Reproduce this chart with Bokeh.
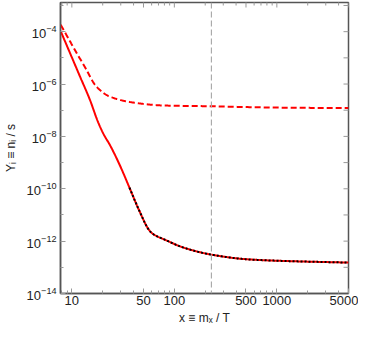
import numpy as np
from bokeh.plotting import figure
from bokeh.models import FixedTicker, CustomJSTickFormatter, Span, LogTickFormatter
from bokeh.embed import file_html
from bokeh.resources import INLINE

# ---- data ----
solid_x = [7.8, 9.7, 12.06, 15.0, 18.0, 20.5, 23.6, 29.3, 36.5,
           45.4, 56.5, 60.7, 81.3, 126, 233, 500, 1028, 5000]
solid_logy = [-3.99, -4.86, -5.73, -6.60, -7.45, -7.93, -8.34, -9.09,
              -9.96, -10.83, -11.57, -11.70, -11.95, -12.26, -12.52,
              -12.69, -12.75, -12.82]

dotted_x = [36.5, 45.4, 56.5, 60.7, 81.3, 126, 233, 500, 1028, 5000]
dotted_logy = [-9.96, -10.83, -11.57, -11.70, -11.95, -12.26, -12.52,
               -12.69, -12.75, -12.82]

dashed_x = [7.8, 10.4, 13.4, 17.4, 23.2, 38.7, 78.4, 233, 500, 1000, 5000]
dashed_logy = [-3.74, -4.61, -5.35, -6.10, -6.47, -6.70, -6.82, -6.85,
               -6.88, -6.90, -6.92]

vline_x = 230

x_lo, x_hi = 7.75, 5000
y_lo, y_hi = 1e-14, 1.3e-3

x_major = [10, 50, 100, 500, 1000, 5000]
x_minor = [8, 9, 20, 30, 40, 60, 70, 80, 90, 200, 300, 400, 600, 700, 800, 900,
           2000, 3000, 4000]
y_major_exp = [-14, -12, -10, -8, -6, -4]
y_minor_exp = [-13, -11, -9, -7, -5, -3]

x_label = "x ≡ mₓ / T"
y_label = "Yᵢ ≡ nᵢ / s"


def smooth(xs, logys, n=500):
    lx = np.log10(xs)
    ly = np.asarray(logys, dtype=float)
    grid = np.linspace(lx[0], lx[-1], n)
    h = np.diff(lx)
    d = np.diff(ly) / h
    m = np.zeros_like(ly)
    m[0], m[-1] = d[0], d[-1]
    for k in range(1, len(ly) - 1):
        if d[k - 1] * d[k] <= 0:
            m[k] = 0
        else:
            w1 = 2 * h[k] + h[k - 1]
            w2 = h[k] + 2 * h[k - 1]
            m[k] = (w1 + w2) / (w1 / d[k - 1] + w2 / d[k])
    out = np.empty_like(grid)
    idx = np.clip(np.searchsorted(lx, grid) - 1, 0, len(lx) - 2)
    for j, g in enumerate(grid):
        k = idx[j]
        t = (g - lx[k]) / h[k]
        h00 = 2 * t**3 - 3 * t**2 + 1
        h10 = t**3 - 2 * t**2 + t
        h01 = -2 * t**3 + 3 * t**2
        h11 = t**3 - t**2
        out[j] = h00 * ly[k] + h10 * h[k] * m[k] + h01 * ly[k + 1] + h11 * h[k] * m[k + 1]
    return 10 ** grid, 10 ** out


FONT = "Liberation Sans"
AX_COL = "#555555"
TICK_COL = "#999999"
TXT_COL = "#222222"

p = figure(width=358, height=329, x_axis_type="log", y_axis_type="log",
           x_range=(x_lo, x_hi), y_range=(y_lo, y_hi),
           output_backend="svg", toolbar_location=None,
           min_border_left=51, min_border_right=10, min_border_top=2,
           min_border_bottom=36)
p.grid.visible = False
p.outline_line_color = AX_COL
p.outline_line_width = 1.5
p.background_fill_color = "white"
p.border_fill_color = "white"


def style(ax):
    ax.axis_line_color = AX_COL
    ax.axis_line_width = 1.5
    ax.major_tick_in = 5
    ax.major_tick_out = 0
    ax.minor_tick_in = 3
    ax.minor_tick_out = 0
    ax.major_tick_line_color = TICK_COL
    ax.minor_tick_line_color = TICK_COL
    ax.major_label_text_font = FONT
    ax.major_label_text_font_size = "13px"
    ax.major_label_text_color = TXT_COL
    ax.axis_label_text_font = FONT
    ax.axis_label_text_font_size = "12px"
    ax.axis_label_text_font_style = "normal"
    ax.axis_label_text_color = TXT_COL


xa = p.xaxis[0]
xa.ticker = FixedTicker(ticks=x_major, minor_ticks=x_minor)
xa.formatter = CustomJSTickFormatter(code="return String(Math.round(tick));")
xa.axis_label = x_label
style(xa)
xa.major_label_standoff = 2
xa.axis_label_standoff = 3

ya = p.yaxis[0]
ya.ticker = FixedTicker(ticks=[10.0 ** e for e in y_major_exp],
                        minor_ticks=[10.0 ** e for e in y_minor_exp])
ya.formatter = LogTickFormatter()
ya.axis_label = y_label
style(ya)
ya.major_label_standoff = 4
ya.axis_label_standoff = 6

# mirrored frame ticks on the top and right edges (screen-sized markers)
p.scatter(x_major, [y_hi] * len(x_major), marker="dash", size=10,
          angle=np.pi / 2, line_color=TICK_COL, line_width=1)
p.scatter(x_minor, [y_hi] * len(x_minor), marker="dash", size=6,
          angle=np.pi / 2, line_color=TICK_COL, line_width=1)
p.scatter([x_hi] * 12, [10.0 ** e for e in range(-14, -2)],
          marker="dash", size=10, line_color=TICK_COL, line_width=1)

sx, sy = smooth(solid_x, solid_logy)
dx, dy = smooth(dashed_x, dashed_logy)
bx, by = smooth(dotted_x, dotted_logy)

p.add_layout(Span(location=vline_x, dimension="height", line_color="#aaaaaa",
                  line_width=1.2, line_dash="6 3"))

p.line(dx, dy, line_color="#ff0000", line_width=2, line_dash="6 3")
p.line(sx, sy, line_color="#ff0000", line_width=2)
p.line(bx, by, line_color="black", line_width=2, line_dash="2 2")

open("out.html", "w").write(file_html(p, INLINE))
